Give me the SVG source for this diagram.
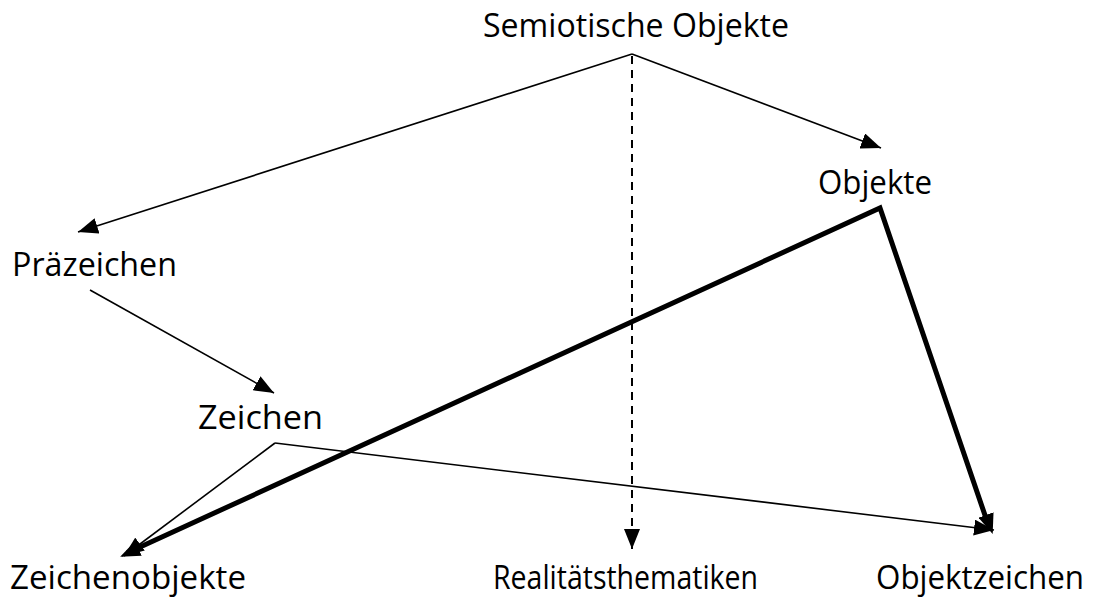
<svg xmlns="http://www.w3.org/2000/svg" width="1095" height="598" viewBox="0 0 1095 598">
<style>
text{font-family:"Open Sans","Noto Sans","Liberation Sans",sans-serif;font-size:32px;fill:#000}
.thin{stroke:#000;stroke-width:1.6;fill:none}
.thick{stroke:#000;stroke-width:5;fill:none}
.dash{stroke:#000;stroke-width:2;fill:none;stroke-dasharray:8,6}
</style>
<defs>
<marker id="ah" markerUnits="userSpaceOnUse" viewBox="0 0 20 16" refX="20" refY="8" markerWidth="20" markerHeight="16" orient="auto">
<path d="M0,0 L20,8 L0,16 Z" fill="#000"/>
</marker>
<marker id="ahk" markerUnits="userSpaceOnUse" viewBox="0 0 20 16" refX="18" refY="8" markerWidth="20" markerHeight="16" orient="auto">
<path d="M0,0 L20,8 L0,16 Z" fill="#000"/>
</marker>
</defs>
<rect width="1095" height="598" fill="#fff"/>
<g id="connectors">
<line class="thin" x1="632" y1="54" x2="78" y2="232" marker-end="url(#ah)"/>
<line class="thin" x1="632" y1="54" x2="881" y2="148" marker-end="url(#ah)"/>
<line class="dash" x1="632" y1="56" x2="632" y2="549" marker-end="url(#ah)"/>
<line class="thin" x1="90" y1="290" x2="274" y2="393" marker-end="url(#ah)"/>
<line class="thin" x1="275" y1="443" x2="124" y2="556" marker-end="url(#ah)"/>
<line class="thin" x1="275" y1="443" x2="994" y2="530" marker-end="url(#ah)"/>
<polyline class="thick" points="127,553 880,208 989,527" stroke-linejoin="miter"/>
<line class="thin" x1="200" y1="520" x2="122" y2="556" marker-end="url(#ahk)" stroke-width="5"/>
<line class="thin" x1="970" y1="470" x2="992" y2="532" marker-end="url(#ahk)" stroke-width="5"/>
</g>
<g id="n-semiotische"><text x="483" y="37" textLength="306" lengthAdjust="spacingAndGlyphs">Semiotische Objekte</text></g>
<g id="n-objekte"><text x="818" y="194" textLength="114" lengthAdjust="spacingAndGlyphs">Objekte</text></g>
<g id="n-praezeichen"><text x="12" y="276" textLength="165" lengthAdjust="spacingAndGlyphs">Präzeichen</text></g>
<g id="n-zeichen"><text x="198" y="429" textLength="125" lengthAdjust="spacingAndGlyphs">Zeichen</text></g>
<g id="n-zeichenobjekte"><text x="10" y="589" textLength="236" lengthAdjust="spacingAndGlyphs">Zeichenobjekte</text></g>
<g id="n-realitaet"><text x="493" y="589" textLength="265" lengthAdjust="spacingAndGlyphs">Realitätsthematiken</text></g>
<g id="n-objektzeichen"><text x="876" y="589" textLength="208" lengthAdjust="spacingAndGlyphs">Objektzeichen</text></g>
</svg>
